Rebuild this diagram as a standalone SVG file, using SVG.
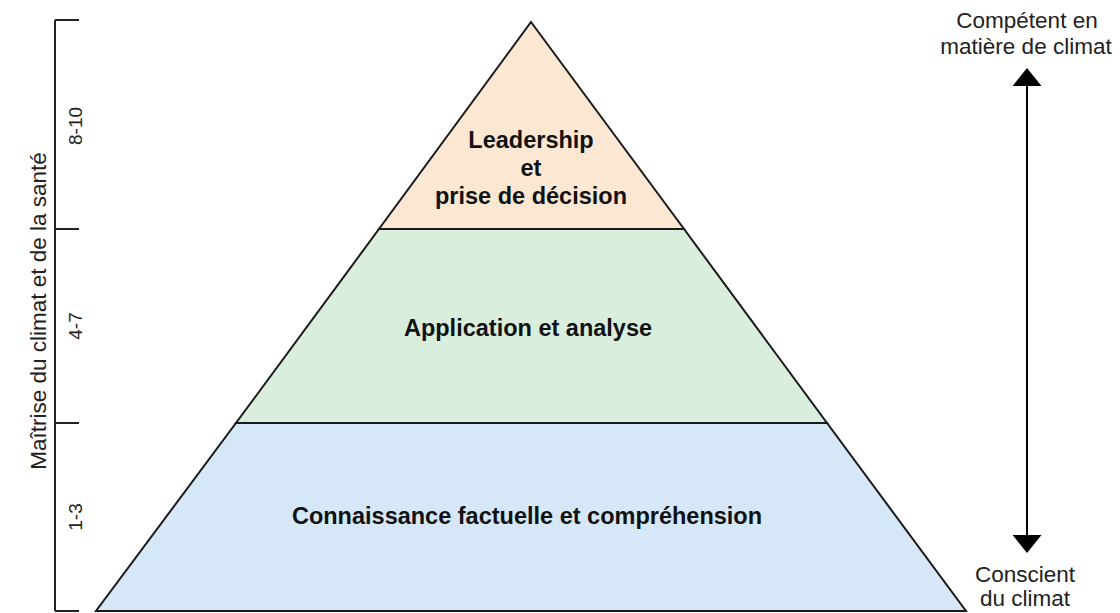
<svg xmlns="http://www.w3.org/2000/svg" width="1120" height="613" viewBox="0 0 1120 613">
<style>
.layer{stroke:#1a1a1a;stroke-width:2;stroke-linejoin:miter}
.bold{font-family:"Liberation Sans",Arial,sans-serif;font-weight:bold;font-size:23.5px;fill:#111;text-anchor:middle}
.reg{font-family:"Liberation Sans",Arial,sans-serif;font-size:22.5px;fill:#222;text-anchor:middle}
.num{font-family:"Liberation Sans",Arial,sans-serif;font-size:19px;fill:#222;text-anchor:middle}
.ax{stroke:#222;stroke-width:2;fill:none}
</style>
<defs>
<marker id="ah" viewBox="0 0 18 29" refX="0" refY="14.5" markerWidth="18" markerHeight="29" markerUnits="userSpaceOnUse" orient="auto">
<path d="M0,0 L18,14.5 L0,29 Z" fill="#000"/>
</marker>
</defs>
<rect width="1120" height="613" fill="#fff"/>
<g id="layer-bottom">
<polygon class="layer" points="236,423 827,423 966,611 96,611" fill="#d6e8f8"/>
<text class="bold" x="527" y="524">Connaissance factuelle et compréhension</text>
</g>
<g id="layer-middle">
<polygon class="layer" points="379,229 684,229 827,423 236,423" fill="#d9eedd"/>
<text class="bold" x="528" y="336">Application et analyse</text>
</g>
<g id="layer-top">
<polygon class="layer" points="531,22 684,229 379,229" fill="#fce8d2"/>
<text class="bold" x="531" y="148">Leadership</text>
<text class="bold" x="531" y="176">et</text>
<text class="bold" x="531" y="204">prise de décision</text>
</g>
<g id="axis">
<path class="ax" d="M55,20 V611 M55,20 H79 M55,229 H79 M55,423 H79 M55,611 H79"/>
<text class="num" transform="translate(82,126) rotate(-90)">8-10</text>
<text class="num" transform="translate(82,326) rotate(-90)">4-7</text>
<text class="num" transform="translate(82,517) rotate(-90)">1-3</text>
<text class="reg" transform="translate(46,311) rotate(-90)">Maîtrise du climat et de la santé</text>
</g>
<g id="connectors">
<line x1="1027" y1="300" x2="1027" y2="86" stroke="#000" stroke-width="2" marker-end="url(#ah)"/>
<line x1="1027" y1="300" x2="1027" y2="535" stroke="#000" stroke-width="2" marker-end="url(#ah)"/>
</g>
<g id="label-top">
<text class="reg" x="1027" y="28">Compétent en</text>
<text class="reg" x="1026" y="54">matière de climat</text>
</g>
<g id="label-bottom">
<text class="reg" x="1025" y="582">Conscient</text>
<text class="reg" x="1025" y="606">du climat</text>
</g>
</svg>
